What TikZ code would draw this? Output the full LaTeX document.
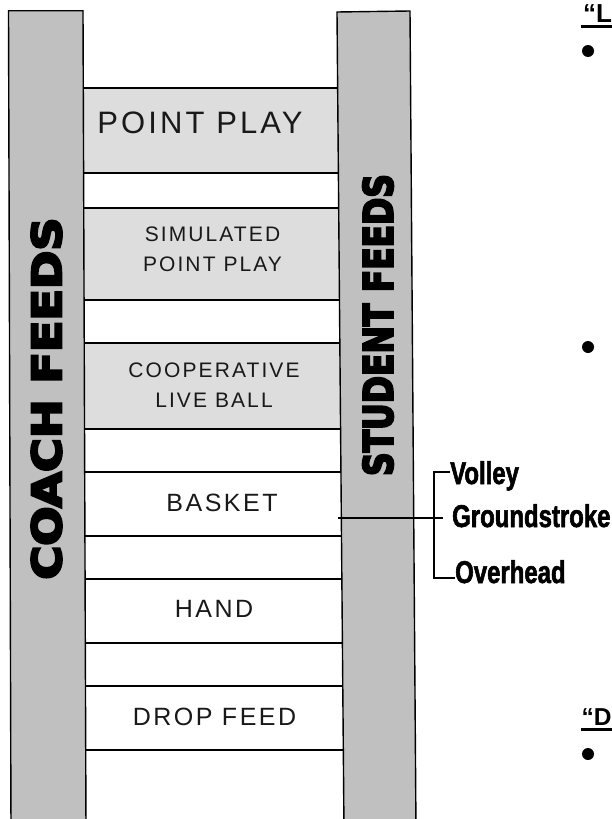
\documentclass[tikz,border=0pt]{standalone}
\usepackage{graphicx}
\usepackage{fontspec}
\setmainfont{Liberation Sans}
\newfontfamily\lblfont{Liberation Sans}[LetterSpace=10]
\newfontfamily\heavyfont{DejaVu Sans}[BoldFeatures={FakeBold=5.5}]
\newfontfamily\condfont{Liberation Sans}[FakeStretch=0.76, BoldFeatures={FakeBold=1.8}]
\newfontfamily\hdrfont{Liberation Sans}
\definecolor{railgray}{RGB}{192,192,192}
\definecolor{boxgray}{RGB}{221,221,221}
\definecolor{ink}{RGB}{25,25,25}
\begin{document}
\begin{tikzpicture}[x=1pt,y=-1pt,
  rung/.style={draw=black, line width=1.4pt, inner sep=0pt, minimum width=266pt},
  rail/.style={draw=black, line width=1.4pt, fill=railgray, line join=miter},
  lbl/.style={inner sep=0pt, text=ink, align=center},
  vlbl/.style={inner sep=0pt, rotate=90, font=\heavyfont\bfseries, text=black},
  branch/.style={inner sep=0pt, font=\condfont\bfseries\fontsize{31.5}{31.5}\selectfont, text=black},
  conn/.style={draw=black, line width=1.2pt},
  hdr/.style={inner sep=0pt, font=\hdrfont\bfseries\fontsize{26}{26}\selectfont},
  bul/.style={circle, fill=black, inner sep=0pt, minimum size=12pt}]
\useasboundingbox (0,0) rectangle (612,819);
\fill[white] (0,0) rectangle (612,819);

% ladder rungs (boxes)
\node[rung, fill=boxgray, minimum height=85pt] (pp) at (212,130.5) {};
\node[rung, fill=boxgray, minimum height=92pt] (sim) at (212,254) {};
\node[rung, fill=boxgray, minimum height=86pt] (coop) at (212,386) {};
\node[rung, fill=white, minimum height=64pt] (basket) at (212,504) {};
\node[rung, fill=white, minimum height=64pt] (hand) at (212,611) {};
\node[rung, fill=white, minimum height=64pt] (drop) at (212,718) {};

% rails
\draw[rail] (8.5,10.7) -- (83,10.7) -- (86,830) -- (11,830) -- cycle;
\draw[rail] (337,12) -- (410,11) -- (416,830) -- (344,830) -- cycle;

% rung labels
\node[lbl, font=\lblfont\fontsize{31}{31}\selectfont] (pplbl) at (200,123) {POINT PLAY};
\node[lbl, font=\lblfont\fontsize{21}{30}\selectfont] (simlbl) at (212.5,249.5) {SIMULATED\\POINT PLAY};
\node[lbl, font=\lblfont\fontsize{21}{30}\selectfont] (cooplbl) at (214,385.5) {COOPERATIVE\\LIVE BALL};
\node[lbl, font=\lblfont\fontsize{25}{25}\selectfont] (basketlbl) at (222,502.5) {BASKET};
\node[lbl, font=\lblfont\fontsize{25}{25}\selectfont] (handlbl) at (214,609) {HAND};
\node[lbl, font=\lblfont\fontsize{25}{25}\selectfont] (droplbl) at (214.5,716.5) {DROP FEED};

% vertical rail labels
\node[vlbl] (coach) at (46.5,398.5) {\resizebox{362pt}{30pt}{COACH FEEDS}};
\node[vlbl] (student) at (378,325) {\resizebox{302pt}{30pt}{STUDENT FEEDS}};

% branch labels
\node[branch, anchor=base west] (volley) at (450,484) {Volley};
\node[branch, anchor=base west] (gstroke) at (452,527) {Groundstroke};
\node[branch, anchor=base west] (overhead) at (455,583) {Overhead};

% connector
\coordinate (cstart) at (338,518);
\coordinate (gsend) at (443,518);
\coordinate (vtop) at (434,472);
\coordinate (vbot) at (434,578);
\draw[conn] (cstart) -- (gsend);
\draw[conn] (volley.west |- vtop) -- (vtop) -- (vbot) -- (overhead.west |- vbot);

% cut-off text at right
\node[hdr, anchor=base west] (hdrL) at (583,22) {“L};
\draw[line width=3pt] (581,26) -- (612,26);
\node[bul] (b1) at (588,51) {};
\node[bul] (b2) at (588,347) {};
\node[hdr, anchor=base west, font=\hdrfont\bfseries\fontsize{24.5}{24.5}\selectfont] (hdrD) at (581.5,725) {“D};
\draw[line width=3pt] (581,729.5) -- (612,729.5);
\node[bul] (b3) at (588,754) {};
\end{tikzpicture}
\end{document}
